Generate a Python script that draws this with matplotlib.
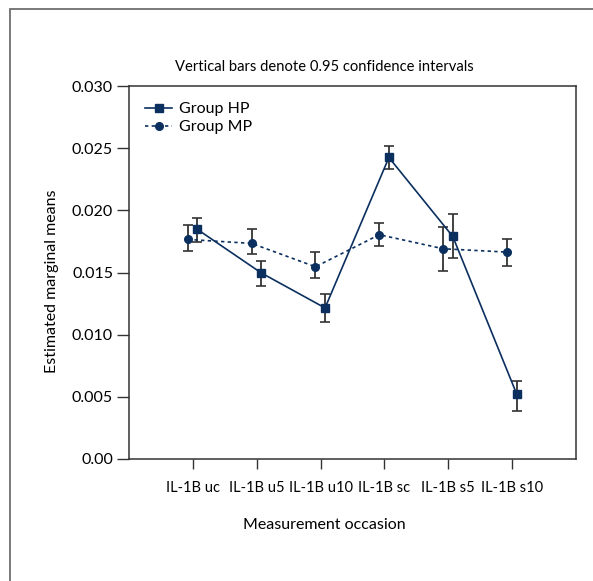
import matplotlib

matplotlib.use("Agg")
import matplotlib.pyplot as plt
from matplotlib.patches import Rectangle

plt.rcParams["font.family"] = ["Lato", "DejaVu Sans"]

OCCASIONS = ["IL-1B uc", "IL-1B u5", "IL-1B u10", "IL-1B sc", "IL-1B s5", "IL-1B s10"]

HP_MEAN = [0.01847, 0.01497, 0.01215, 0.02425, 0.01790, 0.00524]
HP_LOW = [0.01744, 0.01390, 0.01099, 0.02331, 0.01613, 0.00387]
HP_HIGH = [0.01935, 0.01591, 0.01328, 0.02514, 0.01970, 0.00629]

MP_MEAN = [0.01766, 0.01734, 0.01546, 0.01804, 0.01691, 0.01664]
MP_LOW = [0.01676, 0.01645, 0.01452, 0.01712, 0.01516, 0.01556]
MP_HIGH = [0.01881, 0.01847, 0.01664, 0.01895, 0.01866, 0.01771]

Y_TICKS = [0.0, 0.005, 0.010, 0.015, 0.020, 0.025, 0.030]
Y_TICK_LABELS = ["0.00", "0.005", "0.010", "0.015", "0.020", "0.025", "0.030"]

NAVY = "#0b2f5f"
BAR_COLOR = "#333333"

W, H = 593, 581
fig = plt.figure(figsize=(W / 100, H / 100), dpi=100)

# grey outer frame, open past the right and bottom edges
fig.patches.append(Rectangle((10 / W, -0.1), 1.2, 1 - 9 / H + 0.1, transform=fig.transFigure,
                             fill=False, edgecolor="#6e6e6e", linewidth=1.3))

ax = fig.add_axes([129 / W, 1 - 459 / H, (576 - 129) / W, (459 - 86) / H])

x = list(range(1, len(OCCASIONS) + 1))
x_hp = [v + 0.07 for v in x]
x_mp = [v - 0.08 for v in x]

hp_err = [[m - lo for m, lo in zip(HP_MEAN, HP_LOW)], [hi - m for m, hi in zip(HP_MEAN, HP_HIGH)]]
mp_err = [[m - lo for m, lo in zip(MP_MEAN, MP_LOW)], [hi - m for m, hi in zip(MP_MEAN, MP_HIGH)]]

ax.errorbar(x_mp, MP_MEAN, yerr=mp_err, fmt="none", ecolor=BAR_COLOR, elinewidth=1.3,
            capsize=3.4, capthick=1.2, zorder=2)
ax.errorbar(x_hp, HP_MEAN, yerr=hp_err, fmt="none", ecolor=BAR_COLOR, elinewidth=1.3,
            capsize=3.4, capthick=1.2, zorder=2)

ax.plot(x_hp, HP_MEAN, color=NAVY, linewidth=1.2, marker="s", markersize=5.8,
        label="Group HP", zorder=3)
ax.plot(x_mp, MP_MEAN, color=NAVY, linewidth=1.2, linestyle=(0, (2, 2)), marker="o",
        markersize=5.5, label="Group MP", zorder=3)

ax.set_xlim(0, 7)
ax.set_ylim(0, 0.030)
ax.set_xticks(x)
ax.set_xticklabels(OCCASIONS)
ax.set_yticks(Y_TICKS)
ax.set_yticklabels(Y_TICK_LABELS)

for spine in ax.spines.values():
    spine.set_color("#333333")
    spine.set_linewidth(1.1)
ax.tick_params(axis="y", direction="out", length=8.5, width=1.0, color="#333333",
               labelsize=11.5, pad=3)
ax.tick_params(axis="x", direction="out", length=7, width=1.0, color="#333333",
               labelsize=10.5, pad=9)

leg = ax.legend(loc="upper left", frameon=False, fontsize=11.5, handlelength=1.7,
                handletextpad=0.4, labelspacing=0.25, borderaxespad=0.6,
                bbox_to_anchor=(0.0, 1.0))

fig.text(324 / W, 1 - 67 / H, "Vertical bars denote 0.95 confidence intervals",
         ha="center", va="center", fontsize=10.6)
fig.text(324 / W, 1 - 525 / H, "Measurement occasion", ha="center", va="center", fontsize=11.5)
fig.text(52 / W, 1 - 281 / H, "Estimated marginal means", ha="center", va="center",
         rotation=90, fontsize=11.5)

fig.savefig("out.png", dpi=100)
